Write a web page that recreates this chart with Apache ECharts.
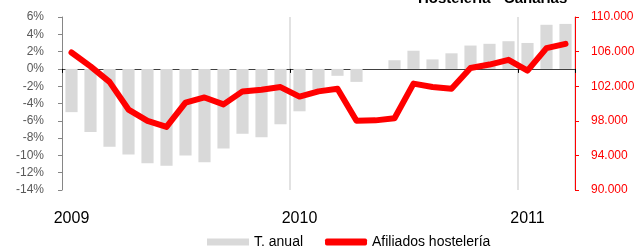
<!DOCTYPE html>
<html>
<head>
<meta charset="utf-8">
<script src="https://cdn.jsdelivr.net/npm/echarts@6/dist/echarts.min.js"></script>
<style>
    html, body { margin: 0; padding: 0; background: #fff; }
    #chart { width: 643px; height: 249px; }
</style>
</head>
<body>
<div id="chart"></div>
<script>
// meses ene-2009 .. mar-2011
var meses = [
    'ene-09', 'feb-09', 'mar-09', 'abr-09', 'may-09', 'jun-09', 'jul-09', 'ago-09', 'sep-09', 'oct-09', 'nov-09', 'dic-09',
    'ene-10', 'feb-10', 'mar-10', 'abr-10', 'may-10', 'jun-10', 'jul-10', 'ago-10', 'sep-10', 'oct-10', 'nov-10', 'dic-10',
    'ene-11', 'feb-11', 'mar-11'
];
var etiquetasAnio = {0: '2009', 12: '2010', 24: '2011'};

// T. anual (%)
var tAnual = [
    -5.0, -7.3, -9.0, -9.9, -10.9, -11.2, -10.0, -10.8, -9.2, -7.5, -7.9, -6.4,
    -4.9, -2.4, -0.8, -1.5, 0.0, 1.0, 2.1, 1.1, 1.8, 2.7, 2.9, 3.2,
    3.0, 5.1, 5.2
];

// Afiliados hosteleria
var afiliados = [
    105900, 104300, 102500, 99300, 98000, 97300, 100100, 100700, 99900, 101400, 101600, 101900,
    100800, 101400, 101700, 98000, 98050, 98300, 102300, 101900, 101700, 104100, 104500, 105050,
    103800, 106400, 106900
];

var pctTicks = {min: -14, max: 6, step: 2};
var afilTicks = {min: 90000, max: 110000, step: 4000};

function fmtMiles(v) {
    var s = String(Math.round(v));
    return s.replace(/\B(?=(\d{3})+(?!\d))/g, '.');
}

var myChart = echarts.init(document.getElementById('chart'));

var option = {
    animation: false,
    textStyle: {fontFamily: 'Liberation Sans, Arial, sans-serif'},
    title: {
        text: 'Hostelería - Canarias',
        left: 418,
        top: -9,
        padding: 0,
        textStyle: {fontSize: 15, fontWeight: 'bold', color: '#000'}
    },
    legend: {
        left: 207,
        top: 235,
        padding: 0,
        itemWidth: 42,
        itemHeight: 7,
        itemGap: 22,
        textStyle: {fontSize: 14, color: '#000'},
        data: [
            {name: 'T. anual', icon: 'rect'},
            {name: 'Afiliados hostelería', icon: 'roundRect'}
        ]
    },
    grid: {left: 62, right: 68, top: 17, bottom: 59, containLabel: false},
    xAxis: [{
        type: 'category',
        data: meses,
        position: 'bottom',
        axisLine: {show: false, onZero: false},
        axisTick: {show: false},
        axisLabel: {
            interval: 0,
            margin: 21,
            fontSize: 16,
            color: '#000',
            formatter: function(v, idx) {
                return etiquetasAnio[idx] || '';
            }
        },
        splitLine: {
            show: true,
            interval: function(idx) { return idx === 12 || idx === 24; },
            lineStyle: {color: '#d9d9d9', width: 1.5}
        }
    }, {
        type: 'category',
        data: meses,
        position: 'bottom',
        axisLine: {show: true, onZero: true, onZeroAxisIndex: 0, lineStyle: {color: '#404040', width: 1}},
        axisTick: {
            show: true,
            length: 4,
            interval: function(idx) { return idx % 12 === 0; },
            lineStyle: {color: '#000'}
        },
        axisLabel: {show: false},
        splitLine: {show: false}
    }],
    yAxis: [{
        type: 'value',
        position: 'left',
        min: pctTicks.min,
        max: pctTicks.max,
        interval: pctTicks.step,
        axisLine: {show: true, lineStyle: {color: '#868686'}},
        axisTick: {show: true, length: 4, lineStyle: {color: '#868686'}},
        axisLabel: {margin: 18, fontSize: 12, color: '#595959', formatter: '{value}%'},
        splitLine: {show: false}
    }, {
        type: 'value',
        position: 'right',
        min: afilTicks.min,
        max: afilTicks.max,
        interval: afilTicks.step,
        axisLine: {show: true, lineStyle: {color: '#ff0000'}},
        axisTick: {show: true, length: 4, lineStyle: {color: '#ff0000'}},
        axisLabel: {margin: 16, fontSize: 12, color: '#ff0000', formatter: fmtMiles},
        splitLine: {show: false}
    }],
    series: [{
        name: 'T. anual',
        type: 'bar',
        xAxisIndex: 0,
        yAxisIndex: 0,
        barCategoryGap: '36%',
        itemStyle: {color: '#d9d9d9'},
        data: tAnual
    }, {
        name: 'Afiliados hostelería',
        type: 'line',
        xAxisIndex: 0,
        yAxisIndex: 1,
        symbol: 'none',
        lineStyle: {color: '#ff0000', width: 6, join: 'round', cap: 'round'},
        itemStyle: {color: '#ff0000'},
        data: afiliados
    }]
};

myChart.setOption(option);
</script>
</body>
</html>
